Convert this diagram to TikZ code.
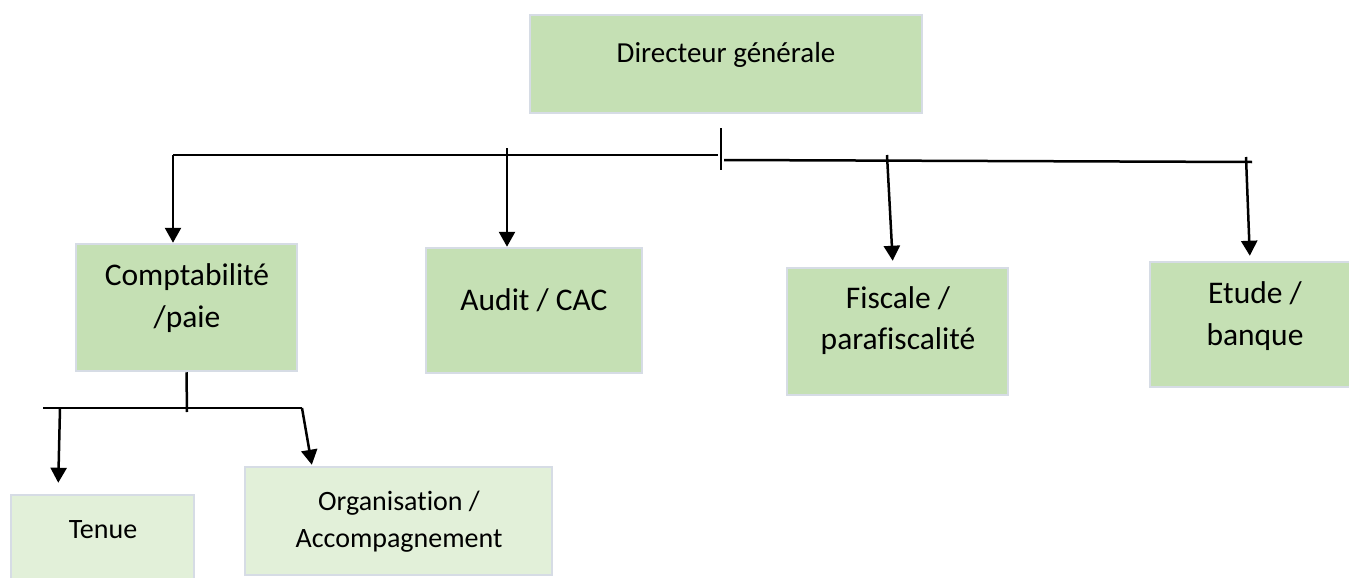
\documentclass[tikz,border=0pt]{standalone}
\usepackage{fontspec}
\setmainfont{Carlito}[Ligatures={NoCommon,NoContextual,NoDiscretionary}]
\usetikzlibrary{arrows.meta}
\definecolor{boxgreen}{HTML}{C5E0B4}
\definecolor{boxlight}{HTML}{E2F0D9}
\definecolor{boxborder}{HTML}{D6DCE5}
\tikzset{
  box/.style={draw=boxborder, line width=2.5pt, fill=boxgreen, rectangle, inner sep=0pt},
  lightbox/.style={box, fill=boxlight},
  lbl/.style={anchor=base, inner sep=0pt, text=black},
  fnA/.style={font=\fontsize{29}{38}\selectfont},
  fnB/.style={font=\fontsize{31.5}{42}\selectfont},
  fnC/.style={font=\fontsize{28}{37}\selectfont},
  conn/.style={line width=2.5pt, black},
  arr/.style={conn, -{Triangle[length=15pt,width=16pt]}}
}
\begin{document}
\begin{tikzpicture}[x=1pt,y=-1pt]
\useasboundingbox (0,0) rectangle (1349,578);
% boxes
\node[box, minimum width=392pt, minimum height=98pt] (dir) at (726,64) {};
\node[box, minimum width=221pt, minimum height=127pt] (comp) at (186.5,307.5) {};
\node[box, minimum width=216pt, minimum height=125pt] (aud) at (534,310.5) {};
\node[box, minimum width=221pt, minimum height=127pt] (fisc) at (897.5,331.5) {};
\node[box, minimum width=212pt, minimum height=125pt] (etu) at (1256,324.5) {};
\node[lightbox, minimum width=183pt, minimum height=95pt] (ten) at (102.5,542.5) {};
\node[lightbox, minimum width=307pt, minimum height=108pt] (org) at (398.5,521) {};
% texts
\node[lbl, fnA] (tdir) at (726,63) {Directeur générale};
\node[lbl, fnB] (tcomp1) at (187,285) {Comptabilité};
\node[lbl, fnB] (tcomp2) at (187,327) {/paie};
\node[lbl, fnB] (taud) at (534,310) {Audit / CAC};
\node[lbl, fnB] (tfisc1) at (898,308) {Fiscale /};
\node[lbl, fnB] (tfisc2) at (898,349) {parafiscalité};
\node[lbl, fnB] (tetu1) at (1255,303) {Etude /};
\node[lbl, fnB] (tetu2) at (1255,345) {banque};
\node[lbl, fnC] (tten) at (103,538) {Tenue};
\node[lbl, fnC] (torg1) at (399,510) {Organisation /};
\node[lbl, fnC] (torg2) at (399,547) {Accompagnement};
% junction coordinates
\coordinate (tickT) at (721,128);
\coordinate (tickB) at (721,170);
\coordinate (hL) at (173,155);
\coordinate (hM1) at (718,155);
\coordinate (hM2) at (724,160);
\coordinate (hR) at (1252,162);
\coordinate (aA) at (507,148);
\coordinate (aF) at (887,155);
\coordinate (aE) at (1246,157);
\coordinate (cB) at (187,412);
\coordinate (sL) at (43,408);
\coordinate (sR) at (302,408);
\coordinate (sT) at (60,408);
% top bus
\draw[conn] (tickT) -- (tickB);
\draw[conn] (hL) -- (hM1);
\draw[conn] (hM2) -- (hR);
\draw[arr] (hL) -- (comp.north -| hL);
\draw[arr] (aA) -- (aud.north -| aA);
\draw[arr, shorten >=6pt] (aF) -- ([xshift=-4.5pt]fisc.north);
\draw[arr, shorten >=5pt] (aE) -- ([xshift=-6pt]etu.north);
% lower bus
\draw[conn] (comp.south) -- (cB);
\draw[conn] (sL) -- (sR);
\draw[arr, shorten >=11pt] (sT) -- ([xshift=-44.5pt]ten.north);
\draw[arr, shorten >=1pt] (sR) -- ([xshift=-86.5pt]org.north);
\end{tikzpicture}
\end{document}
